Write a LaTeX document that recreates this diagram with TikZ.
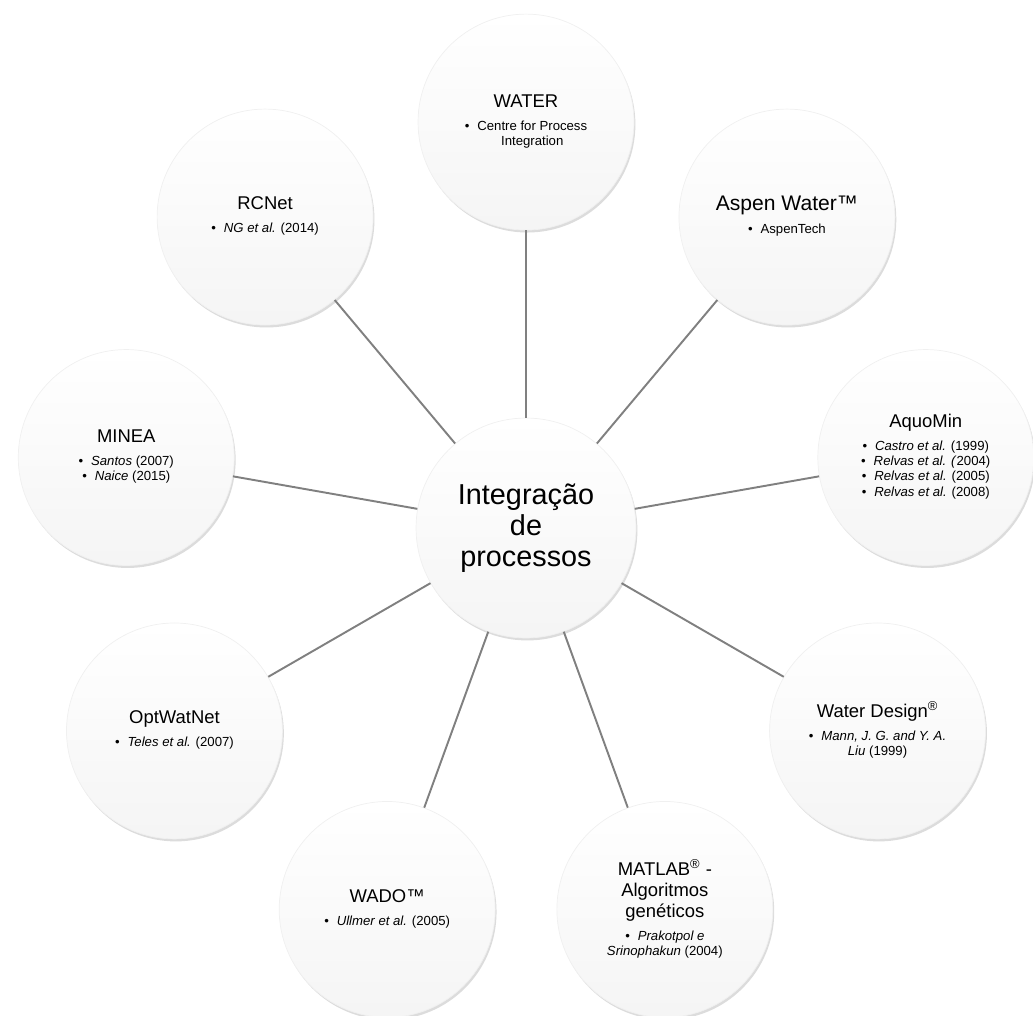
\documentclass[tikz,border=0pt]{standalone}
\usepackage{fontspec}
\setmainfont{Liberation Sans}
\usetikzlibrary{calc,shadows}
\tikzset{%
  pnode/.style={draw=black!6,shape=circle,top color=white,bottom color=black!4,
    minimum size=4.32cm,inner sep=0,align=center,font=\fontsize{10.5}{12}\selectfont,
    drop shadow={shadow xshift=0.8pt,shadow yshift=-1.4pt,opacity=0.25,fill=black!55}},
  hnode/.style={pnode,minimum size=4.4cm,font=\fontsize{16.4}{17.6}\selectfont},
  pedge/.style={draw=black!50,line width=1.1pt}
}
\newcommand{\blist}[1]{{\fontsize{7.5}{8.6}\selectfont\begin{tabular}[t]{@{}c@{}}#1\end{tabular}}}
\newcommand{\bul}{\textbullet\hspace{0.6em}}

\begin{document}
\begin{tikzpicture}[x=0.02cm,y=-0.02cm]
    \useasboundingbox (0,0) rectangle (1033,1016);
    \path
      (526,528) node (hub)[hnode]{Integração\\de\\processos}
      ($(hub)+(90:8.12cm)$) node (water)[pnode]{WATER\\[1pt]\blist{\bul Centre for Process\\\phantom{\bul}Integration}}
      ($(hub)+(50:8.12cm)$) node (aspen)[pnode,font=\fontsize{12}{14}\selectfont]{Aspen Water™\\[-1pt]\blist{\bul AspenTech}}
      ($(hub)+(10:8.12cm)$) node (aquo)[pnode]{AquoMin\\[1pt]\blist{\bul\textit{Castro et al.} (1999)\\\bul\textit{Relvas et al. (}2004)\\\bul\textit{Relvas et al.} (2005)\\\bul\textit{Relvas et al.} (2008)}}
      ($(hub)+(-30:8.12cm)$) node (design)[pnode]{Water Design\textsuperscript{®}\\[1pt]\blist{\bul\textit{Mann, J. G. and Y. A.}\\\textit{Liu} (1999)}}
      ($(hub)+(-70:8.12cm)$) node (matlab)[pnode]{MATLAB\textsuperscript{®} -\\Algoritmos\\genéticos\\[1pt]\blist{\bul\textit{Prakotpol e}\\\textit{Srinophakun} (2004)}}
      ($(hub)+(-110:8.12cm)$) node (wado)[pnode]{WADO™\\[1pt]\blist{\bul\textit{Ullmer et al.} (2005)}}
      ($(hub)+(-150:8.12cm)$) node (optwat)[pnode]{OptWatNet\\[1pt]\blist{\bul\textit{Teles et al.} (2007)}}
      ($(hub)+(170:8.12cm)$) node (minea)[pnode]{MINEA\\[1pt]\blist{\bul\textit{Santos} (2007)\\\bul\textit{Naice} (2015)}}
      ($(hub)+(130:8.12cm)$) node (rcnet)[pnode]{RCNet\\[1pt]\blist{\bul\textit{NG et al.} (2014)}};
    \draw[pedge] (hub) -- (water);
    \draw[pedge] (hub) -- (aspen);
    \draw[pedge] (hub) -- (aquo);
    \draw[pedge] (hub) -- (design);
    \draw[pedge] (hub) -- (matlab);
    \draw[pedge] (hub) -- (wado);
    \draw[pedge] (hub) -- (optwat);
    \draw[pedge] (hub) -- (minea);
    \draw[pedge] (hub) -- (rcnet);
  \end{tikzpicture}
\end{document}
